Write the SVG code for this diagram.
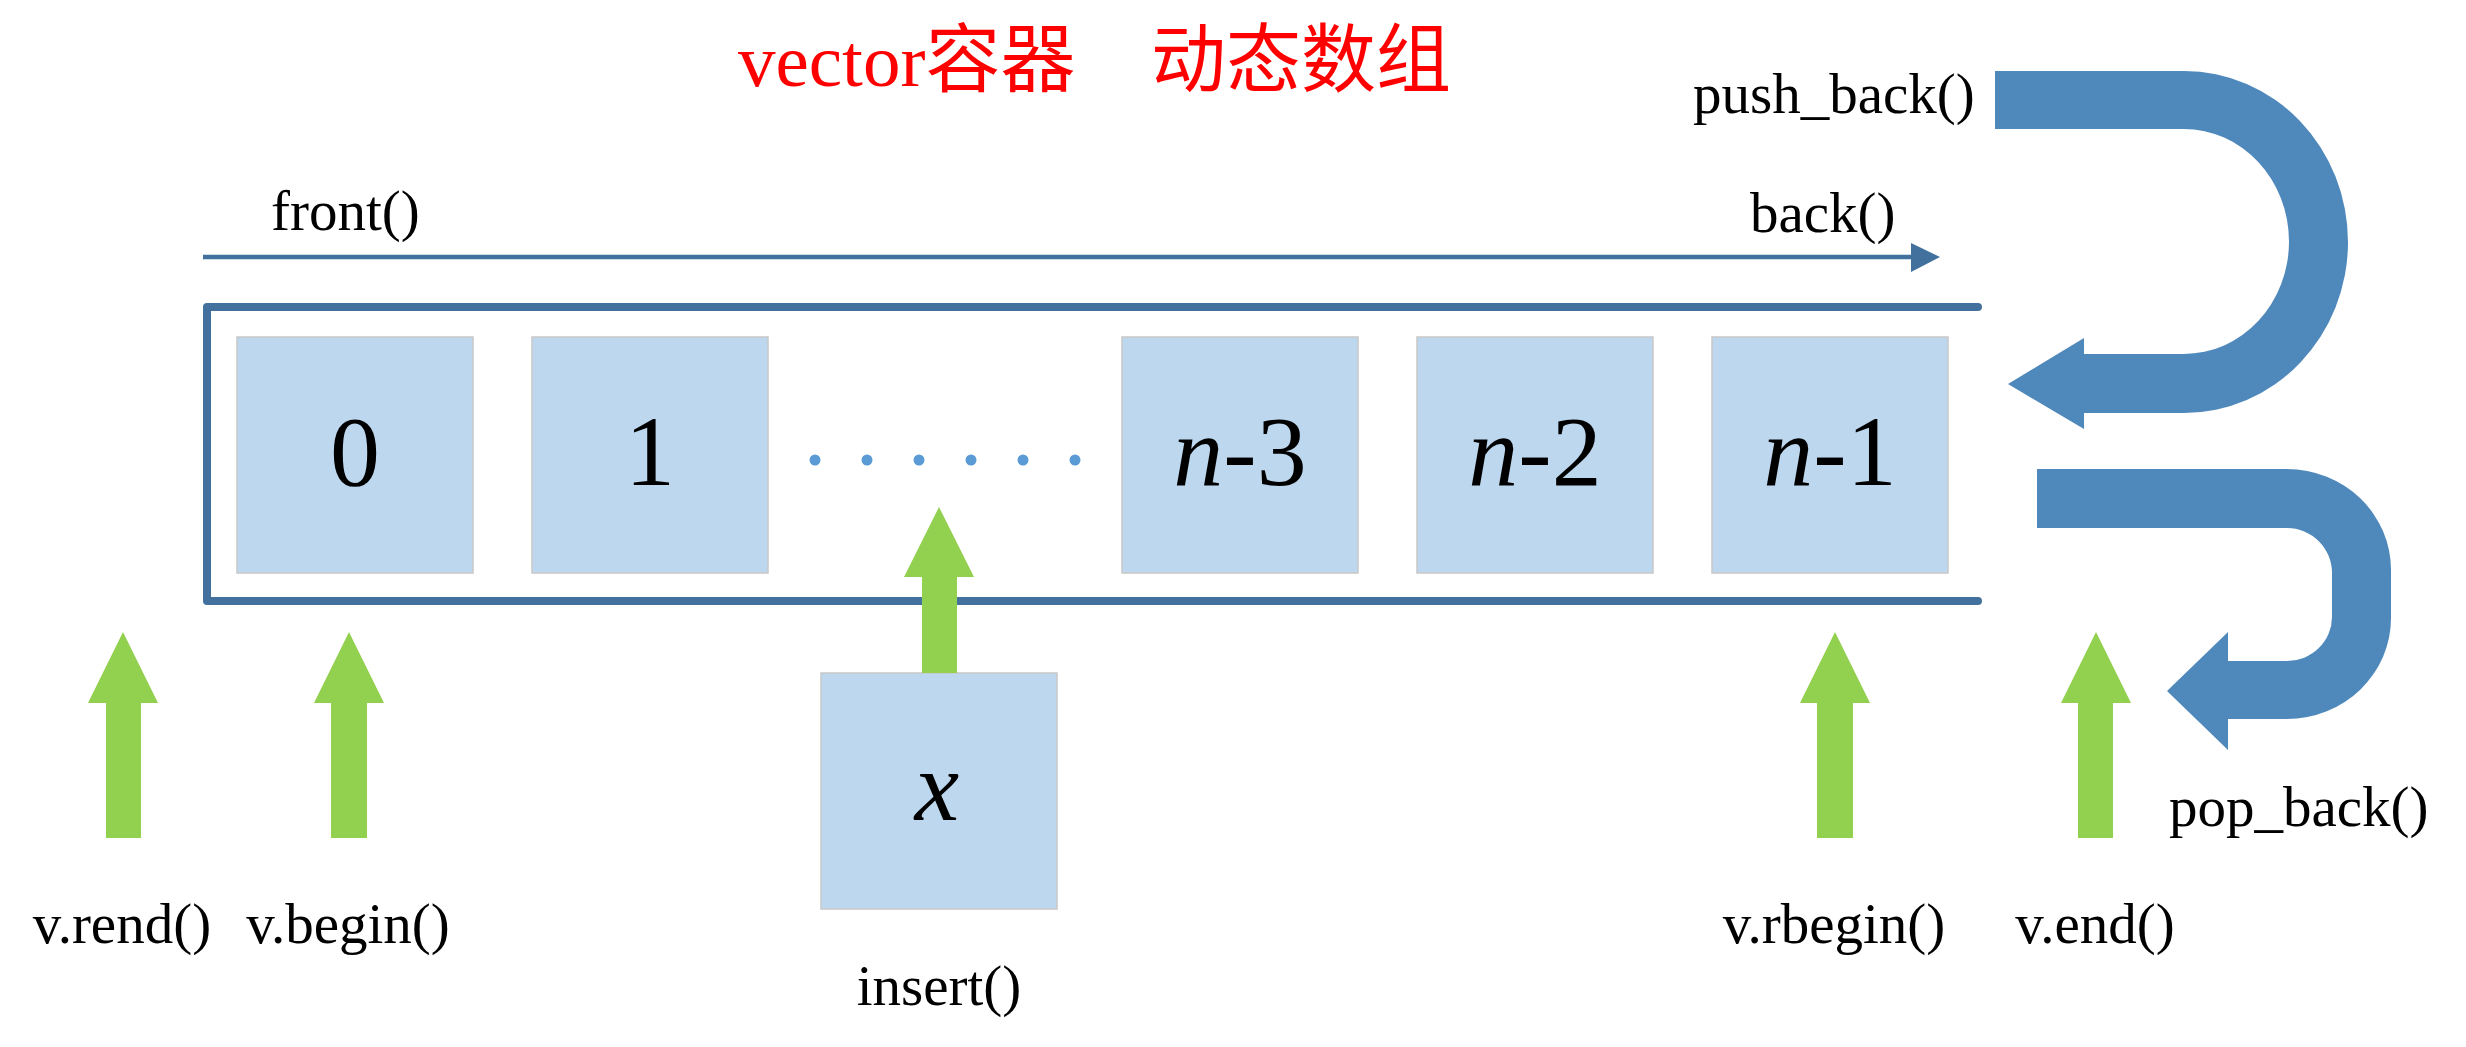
<svg xmlns="http://www.w3.org/2000/svg" width="2466" height="1047" viewBox="0 0 2466 1047">
<style>
.lbl{font-family:"Liberation Serif","Times New Roman",serif;font-size:57px;fill:#000}
.num{font-family:"Liberation Serif","Times New Roman",serif;font-size:100px;fill:#000;text-anchor:middle}
.it{font-style:italic}
.cell{fill:#bdd7ee;stroke:#c8c8c8;stroke-width:1.5}
.green{fill:#92d050}
.band{fill:#4f88bb}
.title{font-size:75px;fill:#ff0000}
</style>
<rect width="2466" height="1047" fill="#fff"/>
<g id="title">
<text class="title" x="738" y="86"><tspan font-family="Liberation Serif, serif">vector</tspan><tspan font-family="Noto Sans CJK SC, sans-serif">容器</tspan><tspan x="1151" font-family="Noto Sans CJK SC, sans-serif">动态数组</tspan></text>
</g>
<g id="container">
<path d="M1978 307 L207 307 L207 601 L1978 601" fill="none" stroke="#41719c" stroke-width="8" stroke-linecap="round" stroke-linejoin="round"/>
</g>
<g id="front-back">
<line x1="203" y1="257" x2="1914" y2="257" stroke="#41719c" stroke-width="4.5"/>
<polygon points="1911,243 1940,257 1911,272" fill="#41719c"/>
<text class="lbl" x="271" y="230">front()</text>
<text class="lbl" x="1750" y="232">back()</text>
</g>
<g id="cell0"><rect class="cell" x="237" y="337" width="236" height="236"/><text class="num" x="355" y="485">0</text></g>
<g id="cell1"><rect class="cell" x="532" y="337" width="236" height="236"/><text class="num" x="650" y="485">1</text></g>
<g id="dots" fill="#5b9bd5">
<circle cx="815" cy="460" r="5.5"/><circle cx="867" cy="460" r="5.5"/><circle cx="919" cy="460" r="5.5"/><circle cx="971" cy="460" r="5.5"/><circle cx="1023" cy="460" r="5.5"/><circle cx="1075" cy="460" r="5.5"/>
</g>
<g id="cell-n3"><rect class="cell" x="1122" y="337" width="236" height="236"/><text class="num" x="1240" y="485"><tspan class="it">n</tspan>-3</text></g>
<g id="cell-n2"><rect class="cell" x="1417" y="337" width="236" height="236"/><text class="num" x="1535" y="485"><tspan class="it">n</tspan>-2</text></g>
<g id="cell-n1"><rect class="cell" x="1712" y="337" width="236" height="236"/><text class="num" x="1830" y="485"><tspan class="it">n</tspan>-1</text></g>
<g id="cell-x"><rect class="cell" x="821" y="673" width="236" height="236"/><text class="num it" x="937" y="820">x</text></g>
<g id="connectors">
<polygon class="green" points="123,632 158,703 141,703 141,838 106,838 106,703 88,703"/>
<polygon class="green" points="349,632 384,703 367,703 367,838 331,838 331,703 314,703"/>
<polygon class="green" points="939,507 974,577 957,577 957,673 922,673 922,577 904,577"/>
<polygon class="green" points="1835,632 1870,703 1853,703 1853,838 1817,838 1817,703 1800,703"/>
<polygon class="green" points="2096,632 2131,703 2113,703 2113,838 2078,838 2078,703 2061,703"/>
<path class="band" d="M1995 71 L2184 71 A164 171 0 0 1 2184 413 L2084 413 L2084 429 L2008 384 L2084 338 L2084 354 L2184 354 A105 112.5 0 0 0 2184 129 L1995 129 Z"/>
<path class="band" d="M2037 469 L2287 469 A104 101 0 0 1 2391 570 L2391 618 A104 101 0 0 1 2287 719 L2228 719 L2228 750 L2167 691 L2228 632 L2228 661 L2287 661 A45 44 0 0 0 2332 617 L2332 573 A45 45 0 0 0 2287 528 L2037 528 Z"/>
</g>
<g id="labels">
<text class="lbl" x="1693" y="113">push_back()</text>
<text class="lbl" x="2169" y="826">pop_back()</text>
<text class="lbl" x="122" y="943" text-anchor="middle">v.rend()</text>
<text class="lbl" x="348" y="943" text-anchor="middle">v.begin()</text>
<text class="lbl" x="939" y="1005" text-anchor="middle">insert()</text>
<text class="lbl" x="1834" y="943" text-anchor="middle">v.rbegin()</text>
<text class="lbl" x="2095" y="943" text-anchor="middle">v.end()</text>
</g>
</svg>
